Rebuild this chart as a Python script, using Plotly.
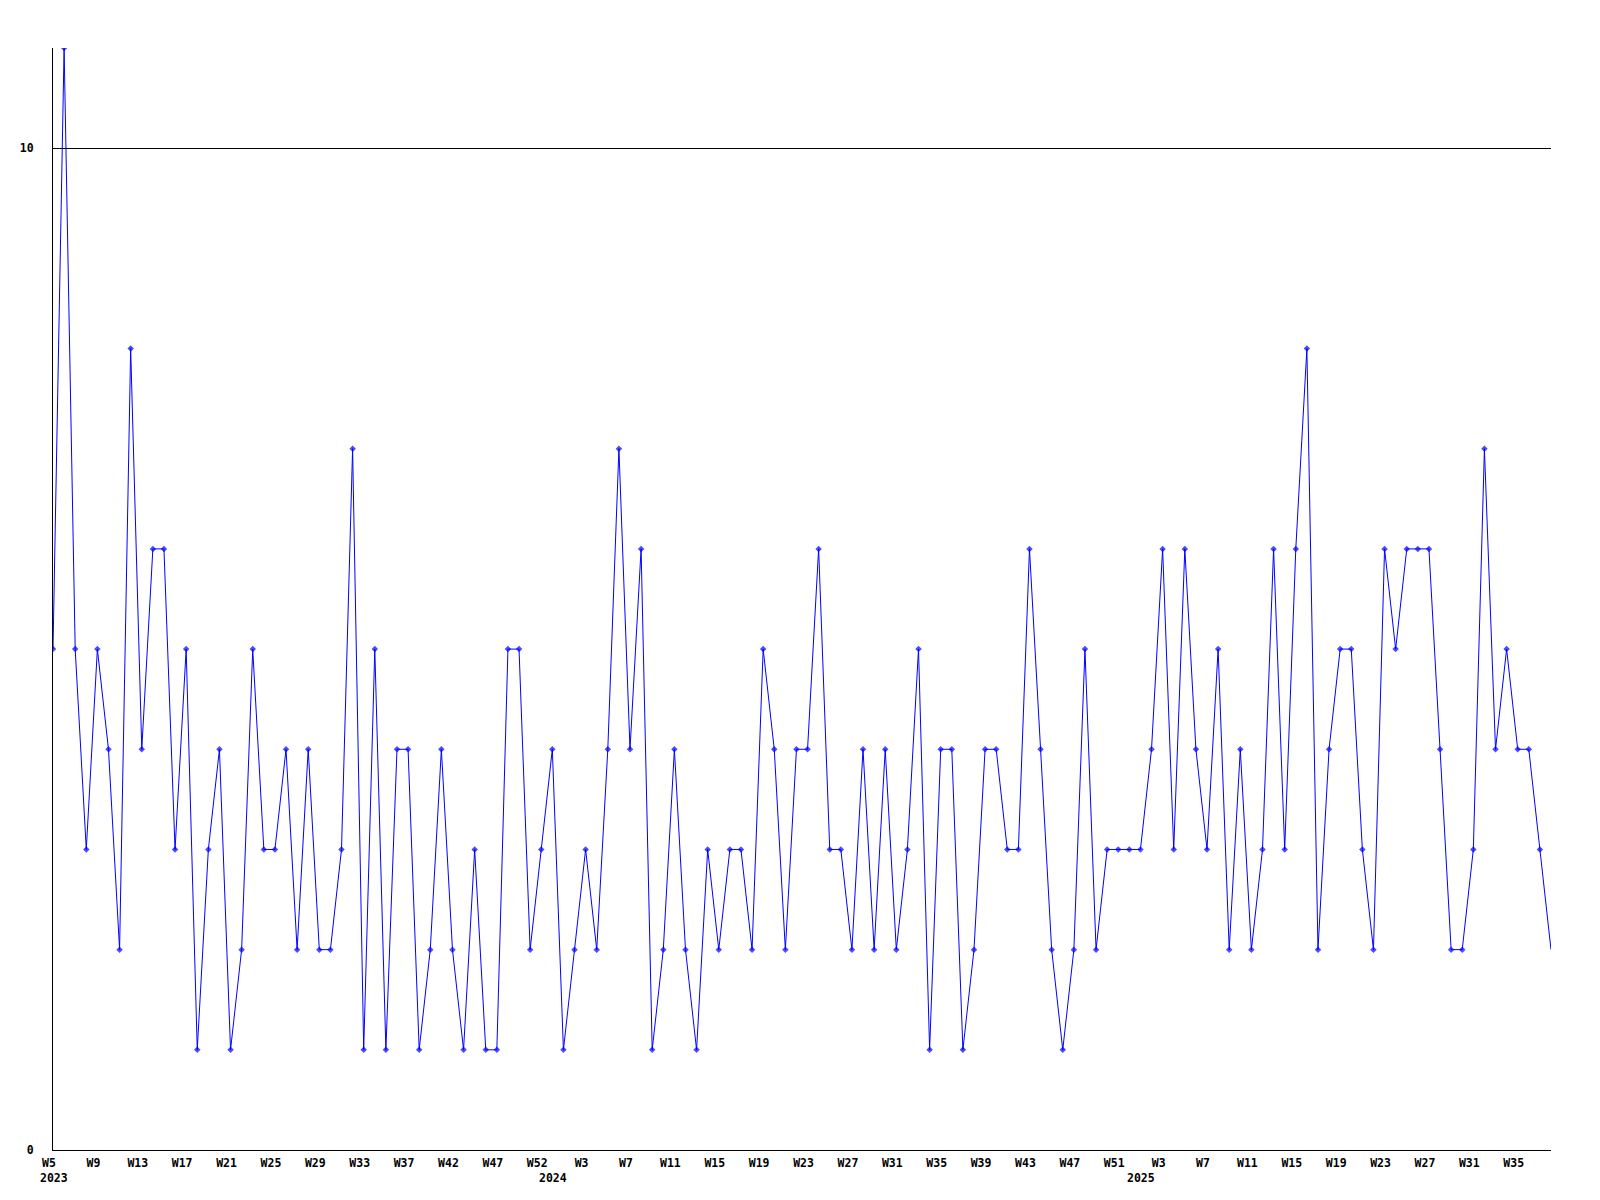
import plotly.graph_objects as go

# Weekly counts, 2023 W5 .. 2025 (one value per point, left to right)
values = [
    5, 11, 5, 3, 5, 4, 2, 8, 4, 6, 6, 3, 5, 1, 3, 4, 1, 2, 5, 3,
    3, 4, 2, 4, 2, 2, 3, 7, 1, 5, 1, 4, 4, 1, 2, 4, 2, 1, 3, 1,
    1, 5, 5, 2, 3, 4, 1, 2, 3, 2, 4, 7, 4, 6, 1, 2, 4, 2, 1, 3,
    2, 3, 3, 2, 5, 4, 2, 4, 4, 6, 3, 3, 2, 4, 2, 4, 2, 3, 5, 1,
    4, 4, 1, 2, 4, 4, 3, 3, 6, 4, 2, 1, 2, 5, 2, 3, 3, 3, 3, 4,
    6, 3, 6, 4, 3, 5, 2, 4, 2, 3, 6, 3, 6, 8, 2, 4, 5, 5, 3, 2,
    6, 5, 6, 6, 6, 4, 2, 2, 3, 7, 4, 5, 4, 4, 3, 2,
]

tick_index = [0, 4, 8, 12, 16, 20, 24, 28, 32, 36, 40, 44, 48, 52, 56, 60, 64,
              68, 72, 76, 80, 84, 88, 92, 96, 100, 104, 108, 112, 116, 120, 124,
              128, 132]
tick_labels = ["W5", "W9", "W13", "W17", "W21", "W25", "W29", "W33", "W37", "W42",
               "W47", "W52", "W3", "W7", "W11", "W15", "W19", "W23", "W27", "W31",
               "W35", "W39", "W43", "W47", "W51", "W3", "W7", "W11", "W15", "W19",
               "W23", "W27", "W31", "W35"]

year_labels = ["2023", "2024", "2025"]
year_index = [0, 45, 98]

y_tick_vals = [0, 10]
y_tick_text = ["0", "10"]

x = list(range(len(values)))
marker_sizes = [5] * len(values)
marker_sizes[-1] = 0

font_family = "DejaVu Sans Mono"

fig = go.Figure()
fig.add_trace(go.Scatter(
    x=x, y=values, mode="lines+markers",
    line=dict(color="#0000ff", width=1),
    marker=dict(symbol="diamond", size=marker_sizes, color="#0000ff",
                line=dict(width=0)),
    showlegend=False, hoverinfo="skip",
))

for lab, idx in zip(year_labels, year_index):
    fig.add_annotation(
        x=idx, y=0, xref="x", yref="paper", text=lab, showarrow=False,
        xanchor="center", yanchor="top", yshift=-19, xshift=1,
        font=dict(family=font_family, size=11.5, color="black", weight="bold"),
    )

fig.update_layout(
    width=1592, height=1192,
    margin=dict(l=42, r=49, t=40, b=50),
    paper_bgcolor="white", plot_bgcolor="white",
    xaxis=dict(
        range=[0, len(values) - 1],
        tickvals=tick_index, ticktext=tick_labels,
        showgrid=False, zeroline=False,
        showline=True, linecolor="black", linewidth=1,
        ticks="", ticklabelstandoff=2, ticklabelshift=-4,
        tickfont=dict(family=font_family, size=11.5, color="black", weight="bold"),
    ),
    yaxis=dict(
        range=[0, 11],
        tickvals=y_tick_vals, ticktext=y_tick_text,
        showgrid=True, gridcolor="black", gridwidth=1,
        zeroline=False,
        showline=True, linecolor="black", linewidth=1,
        ticks="", ticklabelstandoff=16,
        tickfont=dict(family=font_family, size=11.5, color="black", weight="bold"),
    ),
)

fig.write_html("out.html")
